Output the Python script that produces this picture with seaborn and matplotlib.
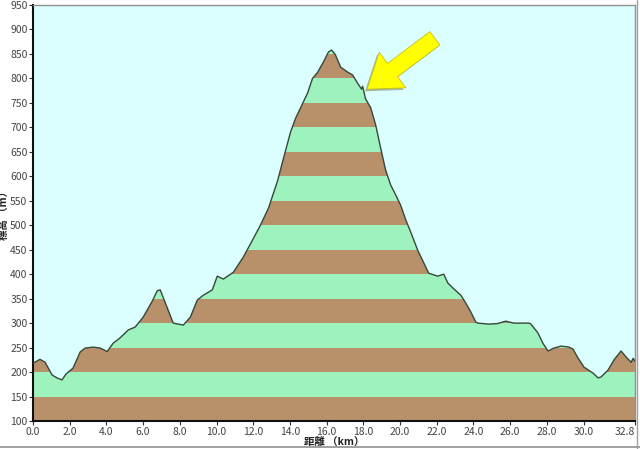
import numpy as np
import pandas as pd
import matplotlib
matplotlib.use("Agg")
import matplotlib.pyplot as plt
import matplotlib.patheffects as pe
import seaborn as sns
from matplotlib.lines import Line2D

# ---- data ----
dist_km = [0.0, 0.38, 0.66, 1.04, 1.31, 1.58, 1.80, 2.18, 2.57, 2.84, 3.28, 3.66, 4.04,
           4.37, 4.75, 5.19, 5.57, 6.00, 6.50, 6.77, 6.93, 7.15, 7.64, 8.19, 8.57, 8.95,
           9.28, 9.77, 10.04, 10.37, 10.92, 11.46, 11.85, 12.39, 12.83, 13.32, 13.65,
           14.03, 14.30, 14.96, 15.23, 15.50, 15.83, 16.10, 16.27, 16.48, 16.76, 17.14,
           17.41, 17.69, 17.90, 17.96, 18.12, 18.40, 18.67, 18.94, 19.21, 19.49, 19.76,
           20.03, 20.31, 20.58, 20.96, 21.56, 22.05, 22.38, 22.60, 22.87, 23.31, 23.58,
           23.85, 24.13, 24.24, 24.84, 25.30, 25.76, 26.20, 27.02, 27.13, 27.51, 27.78,
           28.06, 28.38, 28.77, 29.20, 29.42, 29.69, 30.02, 30.51, 30.79, 30.95, 31.33,
           31.66, 32.04, 32.31, 32.59, 32.70, 32.8]
elev_m = [218, 226, 220, 194, 188, 184, 196, 208, 241, 249, 251, 249, 242,
          259, 270, 286, 292, 312, 345, 366, 368, 347, 300, 296, 312, 347,
          357, 368, 396, 390, 404, 435, 462, 500, 535, 590, 637,
          690, 718, 770, 800, 812, 834, 854, 858, 848, 823, 813,
          807, 790, 778, 784, 758, 740, 705, 658, 613, 582, 562,
          541, 511, 486, 449, 402, 396, 400, 382, 372, 357, 341,
          323, 302, 300, 298, 299, 304, 300, 300, 298, 280, 259,
          243, 249, 253, 251, 247, 229, 210, 198, 188, 190, 204,
          225, 243, 231, 220, 228, 222]

y_ticks = list(range(100, 951, 50))
x_ticks = [0.0, 2.0, 4.0, 6.0, 8.0, 10.0, 12.0, 14.0, 16.0, 18.0, 20.0, 22.0, 24.0,
           26.0, 28.0, 30.0, 32.8]
x_tick_labels = ["0.0", "2.0", "4.0", "6.0", "8.0", "10.0", "12.0", "14.0", "16.0",
                 "18.0", "20.0", "22.0", "24.0", "26.0", "28.0", "30.0", "32.8"]

df = pd.DataFrame({"dist": dist_km, "elev": elev_m})

sns.set_theme(style="white")
plt.rcParams["font.family"] = ["Noto Sans CJK JP", "DejaVu Sans"]

fig = plt.figure(figsize=(6.4, 4.49), dpi=100)
ax = fig.add_axes([33 / 640, 28 / 449, 602 / 640, 416 / 449])
ax.set_facecolor("#DBFFFF")

BROWN = "#B8906A"
GREEN = "#9EF2BE"

# profile polygon used as clip path
poly = ax.fill_between(df["dist"], 100, df["elev"], color="none", lw=0)
clip = poly.get_paths()[0]
for i, lo in enumerate(range(100, 950, 50)):
    band = ax.axhspan(lo, lo + 50, color=BROWN if i % 2 == 0 else GREEN, lw=0, zorder=1)
    band.set_clip_path(clip, ax.transData)

sns.lineplot(data=df, x="dist", y="elev", ax=ax, color="#35483A", lw=1.0, zorder=3,
             sort=False)

ax.set_xlim(0, 32.8)
ax.set_ylim(100, 950)
ax.set_yticks(y_ticks)
ax.set_yticklabels([str(v) for v in y_ticks])
ax.set_xticks(x_ticks)
ax.set_xticklabels(x_tick_labels)
ax.tick_params(axis="both", which="both", direction="out", length=3, width=0.8,
               colors="#333333", labelsize=7.5, pad=1,
               bottom=True, left=True)
for lab in ax.get_xticklabels() + ax.get_yticklabels():
    lab.set_color("#444444")
last = ax.get_xticklabels()[-1]
last.set_horizontalalignment("right")

ax.set_xlabel("距離 （km）", fontsize=7.5, labelpad=0, color="#222222", fontweight="bold")
ax.set_ylabel("標高 （m）", fontsize=7.5, labelpad=1, color="#222222", fontweight="bold")

for s in ["left", "bottom"]:
    ax.spines[s].set_color("#111111")
    ax.spines[s].set_linewidth(1.5)
for s in ["top", "right"]:
    ax.spines[s].set_color("#909090")
    ax.spines[s].set_linewidth(1.0)

# yellow arrow with shadow
arr = ax.annotate("", xy=(18.2, 778), xytext=(21.9, 882),
                  arrowprops=dict(arrowstyle="simple,head_length=2.3,head_width=3.2,tail_width=1.2",
                                  fc="#FFFF00", ec="#C8C020", lw=0.6,
                                  shrinkA=0, shrinkB=0, mutation_scale=10),
                  zorder=5)
arr.arrow_patch.set_path_effects([pe.SimplePatchShadow(offset=(-1.5, -1.5),
                                                        shadow_rgbFace="#606020",
                                                        alpha=0.45),
                                  pe.Normal()])

# figure frame lines (right and bottom)
fig.add_artist(Line2D([0, 1], [2 / 449, 2 / 449], transform=fig.transFigure,
                      color="#909090", lw=1.2))
fig.add_artist(Line2D([637 / 640, 637 / 640], [0, 1], transform=fig.transFigure,
                      color="#a0a0a0", lw=1.0))

fig.savefig("out.png", dpi=100)
